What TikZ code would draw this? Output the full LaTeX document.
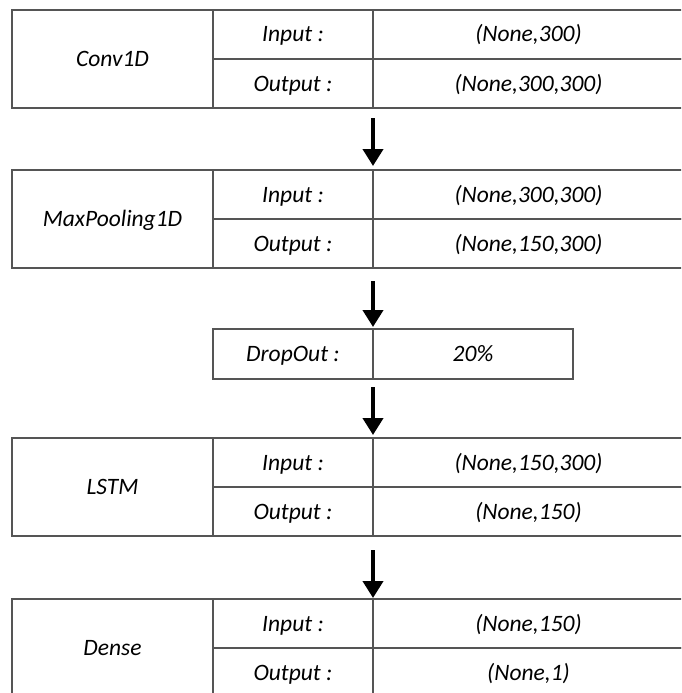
\documentclass[tikz,border=0pt]{standalone}
\usepackage{fontspec}
\setmainfont{Carlito}
\usetikzlibrary{arrows.meta,positioning}
\definecolor{rulegray}{RGB}{85,85,85}
\tikzset{
    cell/.style={draw=rulegray, line width=1.3pt, minimum width=#1,
                 minimum height=49pt, inner sep=0pt, outer sep=0pt,
                 text height=15pt, text depth=0pt,
                 anchor=north west, font=\itshape\fontsize{23.5}{27}\selectfont},
    namecell/.style={cell=201pt, minimum height=98pt},
    flow/.style={-{Triangle[width=20pt,length=17pt]}, line width=4pt, black},
}
\begin{document}
\begin{tikzpicture}[x=1pt, y=1pt]
    \useasboundingbox (0,0) rectangle (681,-693);
    \clip (0,0) rectangle (681,-693);

    % Conv1D
    \node[namecell] (conv) at (12,-10) {Conv1D};
    \node[cell=160pt] (convInL) at (conv.north east) {Input :};
    \node[cell=311pt] (convInV) at (convInL.north east) {(None,300)};
    \node[cell=160pt] (convOutL) at (convInL.south west) {Output :};
    \node[cell=311pt] (convOutV) at (convOutL.north east) {(None,300,300)};

    % MaxPooling1D
    \node[namecell] (pool) at (12,-170) {MaxPooling1D};
    \node[cell=160pt] (poolInL) at (pool.north east) {Input :};
    \node[cell=311pt] (poolInV) at (poolInL.north east) {(None,300,300)};
    \node[cell=160pt] (poolOutL) at (poolInL.south west) {Output :};
    \node[cell=311pt] (poolOutV) at (poolOutL.north east) {(None,150,300)};

    % DropOut
    \node[cell=160pt, minimum height=50pt] (dropL) at (213,-329) {DropOut :};
    \node[cell=200pt, minimum height=50pt] (dropV) at (dropL.north east) {20\%};

    % LSTM
    \node[namecell] (lstm) at (12,-438) {LSTM};
    \node[cell=160pt] (lstmInL) at (lstm.north east) {Input :};
    \node[cell=311pt] (lstmInV) at (lstmInL.north east) {(None,150,300)};
    \node[cell=160pt] (lstmOutL) at (lstmInL.south west) {Output :};
    \node[cell=311pt] (lstmOutV) at (lstmOutL.north east) {(None,150)};

    % Dense
    \node[namecell] (dense) at (12,-599) {Dense};
    \node[cell=160pt] (denseInL) at (dense.north east) {Input :};
    \node[cell=311pt] (denseInV) at (denseInL.north east) {(None,150)};
    \node[cell=160pt] (denseOutL) at (denseInL.south west) {Output :};
    \node[cell=311pt] (denseOutV) at (denseOutL.north east) {(None,1)};

    % arrows between layers
    \draw[flow, shorten <=10pt, shorten >=4pt] (convOutL.south east) -- (poolInL.north east);
    \draw[flow, shorten <=13pt, shorten >=2pt] (poolOutL.south east) -- (dropL.north east);
    \draw[flow, shorten <=8pt, shorten >=3pt] (dropL.south east) -- (lstmInL.north east);
    \draw[flow, shorten <=14pt, shorten >=1pt] (lstmOutL.south east) -- (denseInL.north east);
\end{tikzpicture}
\end{document}
